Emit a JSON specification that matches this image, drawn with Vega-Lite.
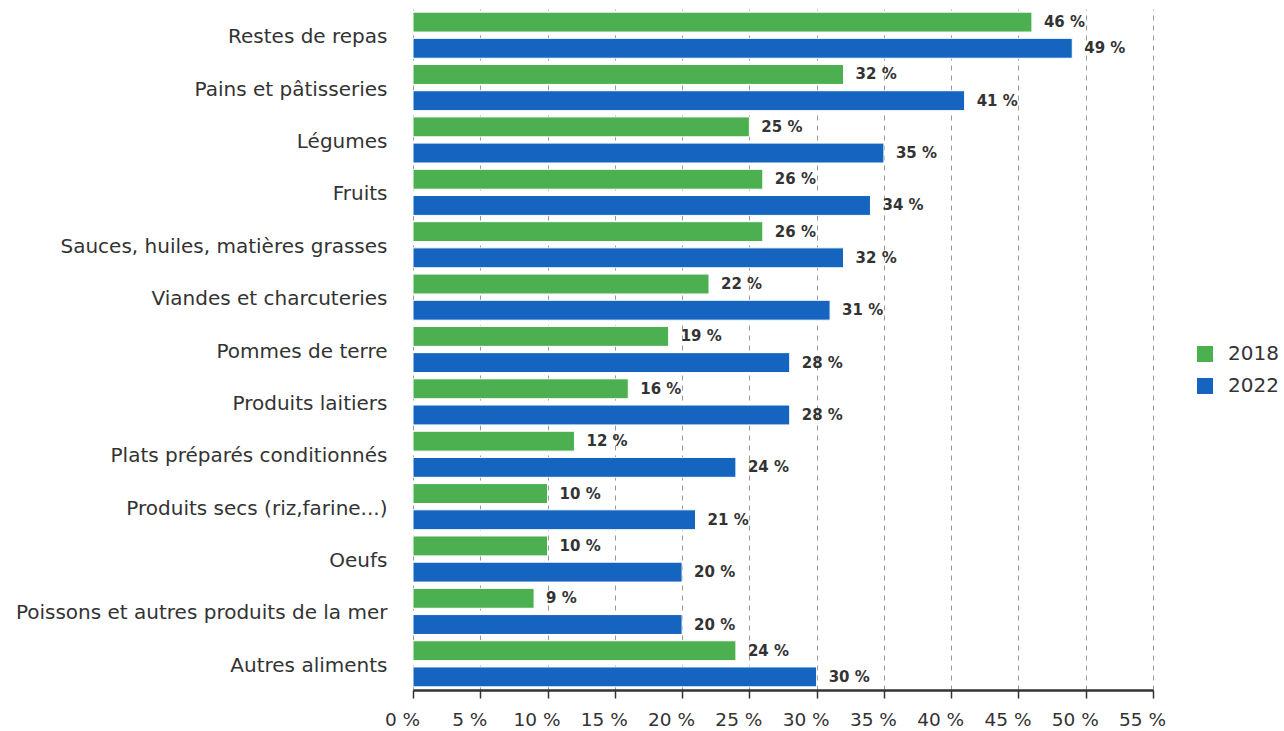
{
  "$schema": "https://vega.github.io/schema/vega-lite/v6.json",
  "autosize": {"type": "none"},
  "width": 740,
  "height": 681,
  "padding": {"left": 413, "top": 9, "right": 131, "bottom": 41},
  "background": "white",
  "config": {
    "font": "DejaVu Sans",
    "view": {"stroke": null}
  },
  "data": {
    "values": [
      {"cat": "Restes de repas", "year": "2018", "value": 46},
      {"cat": "Restes de repas", "year": "2022", "value": 49},
      {"cat": "Pains et pâtisseries", "year": "2018", "value": 32},
      {"cat": "Pains et pâtisseries", "year": "2022", "value": 41},
      {"cat": "Légumes", "year": "2018", "value": 25},
      {"cat": "Légumes", "year": "2022", "value": 35},
      {"cat": "Fruits", "year": "2018", "value": 26},
      {"cat": "Fruits", "year": "2022", "value": 34},
      {"cat": "Sauces, huiles, matières grasses", "year": "2018", "value": 26},
      {"cat": "Sauces, huiles, matières grasses", "year": "2022", "value": 32},
      {"cat": "Viandes et charcuteries", "year": "2018", "value": 22},
      {"cat": "Viandes et charcuteries", "year": "2022", "value": 31},
      {"cat": "Pommes de terre", "year": "2018", "value": 19},
      {"cat": "Pommes de terre", "year": "2022", "value": 28},
      {"cat": "Produits laitiers", "year": "2018", "value": 16},
      {"cat": "Produits laitiers", "year": "2022", "value": 28},
      {"cat": "Plats préparés conditionnés", "year": "2018", "value": 12},
      {"cat": "Plats préparés conditionnés", "year": "2022", "value": 24},
      {"cat": "Produits secs (riz,farine...)", "year": "2018", "value": 10},
      {"cat": "Produits secs (riz,farine...)", "year": "2022", "value": 21},
      {"cat": "Oeufs", "year": "2018", "value": 10},
      {"cat": "Oeufs", "year": "2022", "value": 20},
      {"cat": "Poissons et autres produits de la mer", "year": "2018", "value": 9},
      {"cat": "Poissons et autres produits de la mer", "year": "2022", "value": 20},
      {"cat": "Autres aliments", "year": "2018", "value": 24},
      {"cat": "Autres aliments", "year": "2022", "value": 30}
    ]
  },
  "transform": [{"calculate": "datum.value + ' %'", "as": "label"}],
  "encoding": {
    "y": {
      "field": "cat",
      "type": "nominal",
      "sort": null,
      "scale": {"paddingInner": 0, "paddingOuter": 0},
      "axis": {
        "title": null,
        "domain": false,
        "ticks": false,
        "grid": false,
        "labelFontSize": 20,
        "labelColor": "#333",
        "labelPadding": 26,
        "labelOffset": 2,
        "labelLimit": 0
      }
    },
    "yOffset": {
      "field": "year",
      "type": "nominal",
      "scale": {"paddingInner": 0.24, "paddingOuter": 0.12}
    },
    "x": {
      "field": "value",
      "type": "quantitative",
      "scale": {"domain": [0, 55], "nice": false},
      "axis": {
        "title": null,
        "values": [0, 5, 10, 15, 20, 25, 30, 35, 40, 45, 50, 55],
        "labelExpr": "datum.value + ' %'",
        "labelFontSize": 18.5,
        "labelColor": "#333",
        "labelPadding": 12,
        "labelOffset": -11,
        "labelFlush": false,
        "labelOverlap": false,
        "domainColor": "#333",
        "domainWidth": 2.5,
        "tickColor": "#333",
        "tickWidth": 1.5,
        "tickSize": 8,
        "grid": true,
        "gridColor": "#999",
        "gridDash": [5, 5],
        "gridWidth": 1
      }
    }
  },
  "layer": [
    {
      "mark": {"type": "bar", "stroke": "white", "strokeWidth": 1},
      "encoding": {
        "color": {
          "field": "year",
          "type": "nominal",
          "scale": {"domain": ["2018", "2022"], "range": ["#4caf50", "#1565c0"]},
          "legend": {
            "title": null,
            "orient": "none",
            "legendX": 782,
            "legendY": 335,
            "symbolType": "square",
            "symbolSize": 256,
            "symbolStrokeWidth": 0,
            "labelFontSize": 20,
            "labelColor": "#333",
            "labelOffset": 13,
            "rowPadding": 12
          }
        }
      }
    },
    {
      "mark": {
        "type": "text",
        "align": "left",
        "baseline": "middle",
        "dx": 12,
        "fontSize": 15,
        "fontWeight": "bold",
        "color": "#333"
      },
      "encoding": {"text": {"field": "label"}}
    }
  ]
}
